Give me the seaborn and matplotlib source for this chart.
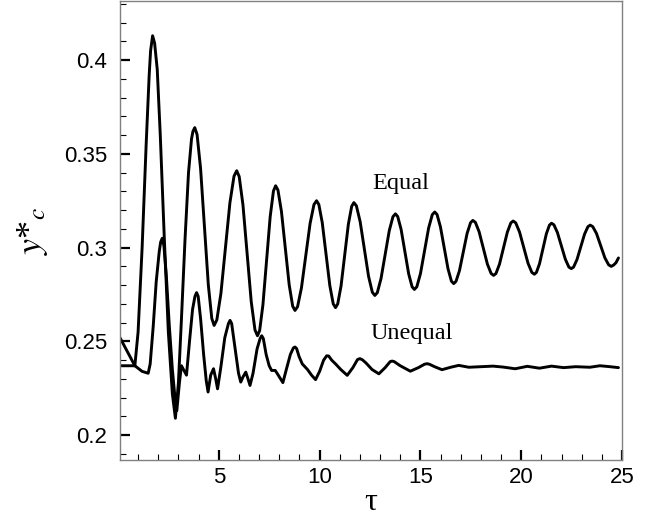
import matplotlib
matplotlib.use("Agg")
import matplotlib.pyplot as plt
import seaborn as sns
import pandas as pd
from matplotlib.ticker import MultipleLocator, FixedLocator, FixedFormatter

# ---- data ----
equal_t = [0.1, 0.84, 1.0, 1.2, 1.4, 1.55, 1.62, 1.72,
           1.82, 1.95, 2.1, 2.3, 2.5, 2.7, 2.85,
           3.0, 3.15, 3.33, 3.5, 3.65, 3.72, 3.81,
           3.925, 4.098, 4.29, 4.482, 4.655, 4.77,
           4.904, 5.106, 5.33, 5.554, 5.756, 5.89,
           6.014, 6.199, 6.405, 6.611, 6.796, 6.92,
           7.028, 7.19, 7.37, 7.55, 7.712, 7.82,
           7.935, 8.108, 8.30, 8.492, 8.665, 8.78,
           8.908, 9.101, 9.315, 9.529, 9.722, 9.85,
           9.963, 10.132, 10.32, 10.508, 10.677, 10.79,
           10.899, 11.063, 11.245, 11.427, 11.591, 11.7,
           11.825, 12.012, 12.22, 12.428, 12.615, 12.74,
           12.862, 13.046, 13.25, 13.454, 13.638, 13.76,
           13.873, 14.042, 14.23, 14.418, 14.587, 14.7,
           14.821, 15.003, 15.205, 15.407, 15.589, 15.71,
           15.823, 15.992, 16.18, 16.368, 16.537, 16.65,
           16.764, 16.935, 17.125, 17.315, 17.486, 17.6,
           17.724, 17.909, 18.115, 18.321, 18.506, 18.63,
           18.746, 18.921, 19.115, 19.309, 19.484, 19.6,
           19.726, 19.915, 20.125, 20.335, 20.524, 20.65,
           20.752, 20.905, 21.075, 21.245, 21.398, 21.5,
           21.618, 21.794, 21.99, 22.186, 22.362, 22.48,
           22.593, 22.762, 22.95, 23.138, 23.307, 23.42,
           23.545, 23.732, 23.94, 24.148, 24.335, 24.46,
           24.58, 24.7, 24.82]
equal_y = [0.237, 0.237, 0.255, 0.300, 0.355, 0.392, 0.405, 0.413,
           0.409, 0.395, 0.360, 0.305, 0.255, 0.222, 0.209,
           0.228, 0.262, 0.305, 0.340, 0.358, 0.362, 0.364,
           0.3603, 0.3423, 0.3113, 0.2802, 0.2622, 0.2585,
           0.2614, 0.2755, 0.2998, 0.324, 0.3381, 0.341,
           0.3379, 0.3229, 0.297, 0.2711, 0.2561, 0.253,
           0.2558, 0.2695, 0.293, 0.3165, 0.3302, 0.333,
           0.3307, 0.3193, 0.2998, 0.2802, 0.2688, 0.2665,
           0.2685, 0.2786, 0.2958, 0.3129, 0.323, 0.325,
           0.323, 0.3133, 0.2965, 0.2797, 0.27, 0.268,
           0.27, 0.2795, 0.296, 0.3125, 0.322, 0.324,
           0.3223, 0.3138, 0.2993, 0.2847, 0.2762, 0.2745,
           0.276, 0.2835, 0.2963, 0.309, 0.3165, 0.318,
           0.3166, 0.3097, 0.2979, 0.286, 0.2791, 0.2777,
           0.2791, 0.2862, 0.2984, 0.3105, 0.3176, 0.319,
           0.3177, 0.3111, 0.2999, 0.2887, 0.2821, 0.2808,
           0.282, 0.2877, 0.2977, 0.3076, 0.3133, 0.3145,
           0.3135, 0.3085, 0.2999, 0.2912, 0.2862, 0.2852,
           0.2862, 0.2912, 0.2997, 0.3082, 0.3132, 0.3142,
           0.3132, 0.3083, 0.3, 0.2917, 0.2868, 0.2858,
           0.2868, 0.2914, 0.2994, 0.3074, 0.312, 0.313,
           0.3122, 0.308, 0.3009, 0.2938, 0.2896, 0.2888,
           0.2896, 0.2936, 0.3004, 0.3072, 0.3112, 0.312,
           0.3112, 0.3075, 0.301, 0.2945, 0.2908, 0.290,
           0.2907, 0.292, 0.2945]

unequal_t = [0.1, 0.84, 1.2, 1.5, 1.6, 1.75, 1.9, 2.05, 2.12, 2.2,
             2.28, 2.4, 2.55, 2.7, 2.82, 2.92, 3.05, 3.15, 3.3, 3.4,
             3.55, 3.7, 3.82, 3.9, 3.98, 4.1, 4.25, 4.38, 4.47, 4.6,
             4.74, 4.85, 4.94, 5.1, 5.3, 5.48, 5.56, 5.64, 5.8, 5.98,
             6.09, 6.2, 6.34, 6.45, 6.55, 6.7, 6.9, 7.05, 7.13, 7.21,
             7.35, 7.5, 7.62, 7.8, 7.95, 8.18, 8.35, 8.55, 8.7, 8.78,
             8.86, 8.98, 9.14, 9.4, 9.6, 9.8, 10.0, 10.2, 10.35, 10.45,
             10.6, 10.79, 11.05, 11.37, 11.65, 11.88, 12.0, 12.12, 12.3, 12.6,
             12.94, 13.25, 13.5, 13.6, 13.7, 14.0, 14.5, 14.9, 15.2, 15.33,
             15.45, 15.7, 16.07, 16.5, 16.9, 17.4, 18.0, 18.6, 19.1, 19.7,
             20.3, 20.9, 21.5, 22.1, 22.7, 23.4, 23.9, 24.4, 24.82]
unequal_y = [0.252, 0.237, 0.234, 0.233, 0.238, 0.258, 0.282, 0.298, 0.303, 0.305,
             0.301, 0.285, 0.258, 0.235, 0.221, 0.213, 0.228, 0.237, 0.234, 0.232,
             0.250, 0.267, 0.274, 0.276, 0.274, 0.262, 0.243, 0.229, 0.223, 0.232,
             0.2354, 0.230, 0.2247, 0.236, 0.252, 0.2595, 0.2612, 0.2595, 0.247, 0.233,
             0.2283, 0.231, 0.2336, 0.230, 0.2265, 0.233, 0.246, 0.2515, 0.253, 0.2515,
             0.243, 0.237, 0.2345, 0.2345, 0.232, 0.228, 0.235, 0.243, 0.2465, 0.247,
             0.2462, 0.242, 0.238, 0.235, 0.232, 0.2296, 0.234, 0.240, 0.2423, 0.2422,
             0.240, 0.238, 0.235, 0.2319, 0.236, 0.2403, 0.2408, 0.2402, 0.2385, 0.235,
             0.2327, 0.236, 0.2392, 0.2395, 0.2392, 0.237, 0.2341, 0.236, 0.2378, 0.2381,
             0.2378, 0.2365, 0.2349, 0.2362, 0.2372, 0.2362, 0.2365, 0.2368, 0.2363, 0.2354,
             0.2367, 0.2357, 0.2368, 0.236, 0.2365, 0.2362, 0.237, 0.2365, 0.236]

x_ticks = [5, 10, 15, 20, 25]
x_tick_labels = ["5", "10", "15", "20", "25"]
y_ticks = [0.2, 0.25, 0.3, 0.35, 0.4]
y_tick_labels = ["0.2", "0.25", "0.3", "0.35", "0.4"]

series_names = ["Equal", "Unequal"]

# ---- plotting ----
sns.set_theme(style="white")
plt.rcParams["font.family"] = ["Liberation Sans", "DejaVu Sans"]
plt.rcParams["mathtext.fontset"] = "stix"
plt.rcParams["text.color"] = "black"
plt.rcParams["axes.labelcolor"] = "black"
plt.rcParams["xtick.color"] = "black"
plt.rcParams["ytick.color"] = "black"

df = pd.concat([
    pd.DataFrame({"tau": equal_t, "y": equal_y, "case": series_names[0]}),
    pd.DataFrame({"tau": unequal_t, "y": unequal_y, "case": series_names[1]}),
])

fig = plt.figure(figsize=(6.59, 5.27), dpi=100)
ax = fig.add_axes([0.182, 0.127, 0.762, 0.871])

for name in series_names:
    sub = df[df["case"] == name]
    sns.lineplot(data=sub, x="tau", y="y", ax=ax, color="black",
                 linewidth=2.1, estimator=None, sort=False, legend=False)

ax.set_xlim(0.1, 25.0)
ax.set_ylim(0.1867, 0.4315)

ax.xaxis.set_major_locator(FixedLocator(x_ticks))
ax.xaxis.set_major_formatter(FixedFormatter(x_tick_labels))
ax.xaxis.set_minor_locator(MultipleLocator(1))
ax.yaxis.set_major_locator(FixedLocator(y_ticks))
ax.yaxis.set_major_formatter(FixedFormatter(y_tick_labels))
ax.yaxis.set_minor_locator(MultipleLocator(0.01))

ax.tick_params(which="major", direction="in", length=7.5, width=1.6,
               color="black", labelsize=16, labelcolor="black")
ax.tick_params(axis="y", which="major", pad=9)
ax.tick_params(axis="x", which="major", pad=5)
ax.tick_params(which="minor", direction="in", length=4.5, width=0.8,
               color="black")
ax.tick_params(which="both", bottom=True, left=True, top=False, right=False)

for sp in ax.spines.values():
    sp.set_color("#808080")
    sp.set_linewidth(1.0)

serif = ["Liberation Serif", "DejaVu Serif"]
ax.set_xlabel("τ", family=serif, fontsize=23, labelpad=0, color="black")
ax.set_ylabel(r"$y$*$_{c}$", family=serif, fontsize=26, labelpad=10,
              color="black")

ax.text(12.61, 0.3311, "Equal", family=serif, color="black",
        fontsize=17.5, ha="left", va="baseline")
ax.text(12.52, 0.2514, "Unequal", family=serif, color="black",
        fontsize=17.5, ha="left", va="baseline")

fig.savefig("out.png", dpi=100)
